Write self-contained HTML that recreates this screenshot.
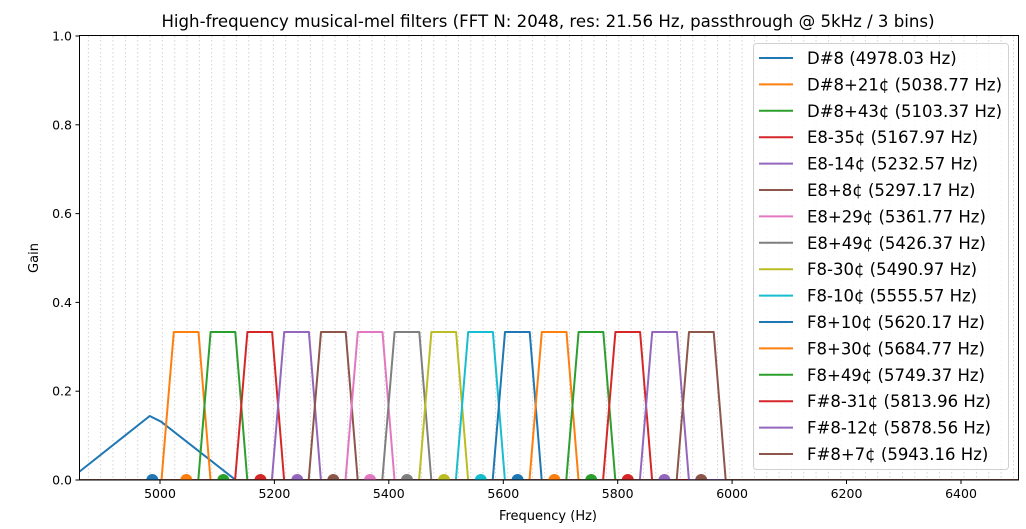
<!DOCTYPE html>
<html><head><meta charset="utf-8"><style>
html,body{margin:0;padding:0;background:#fff}
svg{display:block;font-family:"DejaVu Sans","Liberation Sans",sans-serif}
</style></head><body>
<svg width="1026" height="529" viewBox="0 0 1026 529" xmlns="http://www.w3.org/2000/svg">
<defs>
<pattern id="g" patternUnits="userSpaceOnUse" x="87.9" y="36" width="12.3345" height="4">
<line x1="0.4" y1="0" x2="0.4" y2="1.5" stroke="#c8c8c8" stroke-width="0.8"/>
</pattern>
<clipPath id="c"><rect x="79.5" y="35.5" width="939" height="444.5"/></clipPath>
</defs>
<rect x="0" y="0" width="1026" height="529" fill="#fff"/>
<rect x="79.5" y="35.5" width="939" height="444.5" fill="url(#g)"/>
<text x="548" y="27" font-size="16.6" text-anchor="middle">High-frequency musical-mel filters (FFT N: 2048, res: 21.56 Hz, passthrough @ 5kHz / 3 bins)</text>
<g clip-path="url(#c)" fill="none" stroke-width="2" stroke-linejoin="round">
<path stroke="#1f77b4" d="M79,472 L149.7,416 L161.1,421.7 L235.7,480 L1018,480"/>
<path stroke="#ff7f0e" d="M79,480 L161.5,480 L173.8,332 L198.5,332 L210.5,480 L1018,480"/>
<path stroke="#2ca02c" d="M79,480 L198.3,480 L210.6,332 L235.3,332 L247.3,480 L1018,480"/>
<path stroke="#d62728" d="M79,480 L235.1,480 L247.4,332 L272.1,332 L284.1,480 L1018,480"/>
<path stroke="#9467bd" d="M79,480 L271.9,480 L284.2,332 L308.9,332 L320.9,480 L1018,480"/>
<path stroke="#8c564b" d="M79,480 L308.7,480 L321,332 L345.7,332 L357.7,480 L1018,480"/>
<path stroke="#e377c2" d="M79,480 L345.5,480 L357.8,332 L382.5,332 L394.5,480 L1018,480"/>
<path stroke="#7f7f7f" d="M79,480 L382.3,480 L394.6,332 L419.3,332 L431.3,480 L1018,480"/>
<path stroke="#bcbd22" d="M79,480 L419.1,480 L431.4,332 L456.1,332 L468.1,480 L1018,480"/>
<path stroke="#17becf" d="M79,480 L455.9,480 L468.2,332 L492.9,332 L504.9,480 L1018,480"/>
<path stroke="#1f77b4" d="M79,480 L492.7,480 L505,332 L529.7,332 L541.7,480 L1018,480"/>
<path stroke="#ff7f0e" d="M79,480 L529.5,480 L541.8,332 L566.5,332 L578.5,480 L1018,480"/>
<path stroke="#2ca02c" d="M79,480 L566.3,480 L578.6,332 L603.3,332 L615.3,480 L1018,480"/>
<path stroke="#d62728" d="M79,480 L603.1,480 L615.4,332 L640.1,332 L652.1,480 L1018,480"/>
<path stroke="#9467bd" d="M79,480 L639.9,480 L652.2,332 L676.9,332 L688.9,480 L1018,480"/>
<path stroke="#8c564b" d="M79,480 L676.7,480 L689,332 L713.7,332 L725.7,480 L1018,480"/>
<g stroke="none">
<circle cx="152.3" cy="480" r="6" fill="#1f77b4"/>
<circle cx="186.3" cy="480" r="6" fill="#ff7f0e"/>
<circle cx="223.3" cy="480" r="6" fill="#2ca02c"/>
<circle cx="260.5" cy="480" r="6" fill="#d62728"/>
<circle cx="297.3" cy="480" r="6" fill="#9467bd"/>
<circle cx="333.3" cy="480" r="6" fill="#8c564b"/>
<circle cx="370" cy="480" r="6" fill="#e377c2"/>
<circle cx="407" cy="480" r="6" fill="#7f7f7f"/>
<circle cx="444" cy="480" r="6" fill="#bcbd22"/>
<circle cx="480.8" cy="480" r="6" fill="#17becf"/>
<circle cx="517.6" cy="480" r="6" fill="#1f77b4"/>
<circle cx="554.4" cy="480" r="6" fill="#ff7f0e"/>
<circle cx="591.2" cy="480" r="6" fill="#2ca02c"/>
<circle cx="627.8" cy="480" r="6" fill="#d62728"/>
<circle cx="664.4" cy="480" r="6" fill="#9467bd"/>
<circle cx="701.2" cy="480" r="6" fill="#8c564b"/>
</g>
</g>
<rect x="79.5" y="35.5" width="939" height="444.5" fill="none" stroke="#000" stroke-width="1"/>
<g stroke="#000" stroke-width="1">
<line x1="160" y1="480" x2="160" y2="484"/><line x1="274.4" y1="480" x2="274.4" y2="484"/>
<line x1="388.8" y1="480" x2="388.8" y2="484"/><line x1="503.3" y1="480" x2="503.3" y2="484"/>
<line x1="617.7" y1="480" x2="617.7" y2="484"/><line x1="732.1" y1="480" x2="732.1" y2="484"/>
<line x1="846.5" y1="480" x2="846.5" y2="484"/><line x1="961" y1="480" x2="961" y2="484"/>
<line x1="75.5" y1="480" x2="79.5" y2="480"/><line x1="75.5" y1="391.2" x2="79.5" y2="391.2"/>
<line x1="75.5" y1="302.4" x2="79.5" y2="302.4"/><line x1="75.5" y1="213.6" x2="79.5" y2="213.6"/>
<line x1="75.5" y1="124.8" x2="79.5" y2="124.8"/><line x1="75.5" y1="36" x2="79.5" y2="36"/>
</g>
<g font-size="12.5" text-anchor="middle">
<text x="160" y="498">5000</text><text x="274.4" y="498">5200</text><text x="388.8" y="498">5400</text>
<text x="503.3" y="498">5600</text><text x="617.7" y="498">5800</text><text x="732.1" y="498">6000</text>
<text x="846.5" y="498">6200</text><text x="961" y="498">6400</text>
<text x="548" y="520" font-size="13">Frequency (Hz)</text>
</g>
<g font-size="12.5" text-anchor="end">
<text x="72" y="484.5">0.0</text><text x="72" y="395.7">0.2</text><text x="72" y="306.9">0.4</text>
<text x="72" y="218.1">0.6</text><text x="72" y="129.3">0.8</text><text x="72" y="40.5">1.0</text>
</g>
<text transform="translate(38,258) rotate(-90)" font-size="13" text-anchor="middle">Gain</text>
<rect x="753.5" y="43.5" width="255" height="426" rx="3" fill="#fff" fill-opacity="0.8" stroke="#d0d0d0"/>
<g stroke-width="2">
<line x1="759" y1="58" x2="793" y2="58" stroke="#1f77b4"/>
<line x1="759" y1="84.4" x2="793" y2="84.4" stroke="#ff7f0e"/>
<line x1="759" y1="110.8" x2="793" y2="110.8" stroke="#2ca02c"/>
<line x1="759" y1="137.2" x2="793" y2="137.2" stroke="#d62728"/>
<line x1="759" y1="163.6" x2="793" y2="163.6" stroke="#9467bd"/>
<line x1="759" y1="190" x2="793" y2="190" stroke="#8c564b"/>
<line x1="759" y1="216.4" x2="793" y2="216.4" stroke="#e377c2"/>
<line x1="759" y1="242.8" x2="793" y2="242.8" stroke="#7f7f7f"/>
<line x1="759" y1="269.2" x2="793" y2="269.2" stroke="#bcbd22"/>
<line x1="759" y1="295.6" x2="793" y2="295.6" stroke="#17becf"/>
<line x1="759" y1="322" x2="793" y2="322" stroke="#1f77b4"/>
<line x1="759" y1="348.4" x2="793" y2="348.4" stroke="#ff7f0e"/>
<line x1="759" y1="374.8" x2="793" y2="374.8" stroke="#2ca02c"/>
<line x1="759" y1="401.2" x2="793" y2="401.2" stroke="#d62728"/>
<line x1="759" y1="427.6" x2="793" y2="427.6" stroke="#9467bd"/>
<line x1="759" y1="454" x2="793" y2="454" stroke="#8c564b"/>
</g>
<g font-size="16.5">
<text x="807" y="64">D#8 (4978.03 Hz)</text>
<text x="807" y="90.4">D#8+21¢ (5038.77 Hz)</text>
<text x="807" y="116.8">D#8+43¢ (5103.37 Hz)</text>
<text x="807" y="143.2">E8-35¢ (5167.97 Hz)</text>
<text x="807" y="169.6">E8-14¢ (5232.57 Hz)</text>
<text x="807" y="196">E8+8¢ (5297.17 Hz)</text>
<text x="807" y="222.4">E8+29¢ (5361.77 Hz)</text>
<text x="807" y="248.8">E8+49¢ (5426.37 Hz)</text>
<text x="807" y="275.2">F8-30¢ (5490.97 Hz)</text>
<text x="807" y="301.6">F8-10¢ (5555.57 Hz)</text>
<text x="807" y="328">F8+10¢ (5620.17 Hz)</text>
<text x="807" y="354.4">F8+30¢ (5684.77 Hz)</text>
<text x="807" y="380.8">F8+49¢ (5749.37 Hz)</text>
<text x="807" y="407.2">F#8-31¢ (5813.96 Hz)</text>
<text x="807" y="433.6">F#8-12¢ (5878.56 Hz)</text>
<text x="807" y="460">F#8+7¢ (5943.16 Hz)</text>
</g>
</svg>
</body></html>
